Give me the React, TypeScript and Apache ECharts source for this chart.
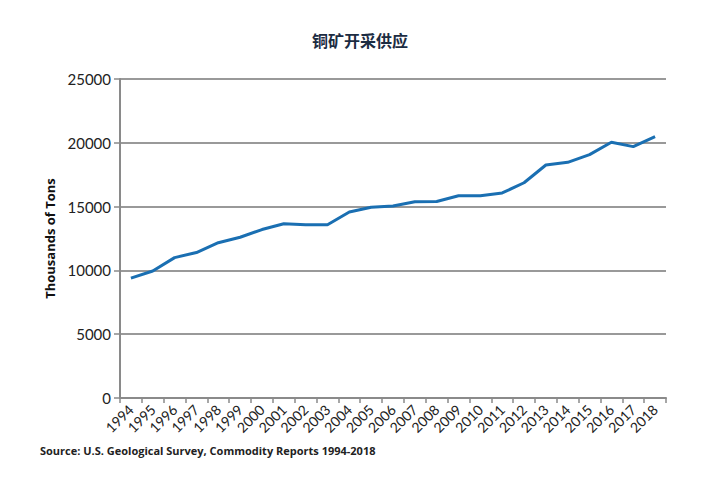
import React, { useEffect, useRef } from "react";
import * as echarts from "echarts";

const years = [
  "1994", "1995", "1996", "1997", "1998", "1999", "2000", "2001", "2002",
  "2003", "2004", "2005", "2006", "2007", "2008", "2009", "2010", "2011",
  "2012", "2013", "2014", "2015", "2016", "2017", "2018",
];
const supply = [
  9400, 9950, 11000, 11400, 12170, 12600, 13200, 13660, 13580,
  13580, 14580, 14950, 15050, 15380, 15400, 15850, 15850, 16070,
  16870, 18260, 18470, 19070, 20040, 19700, 20480,
];
const titleText = "铜矿开采供应";
const yAxisName = "Thousands of Tons";
const sourceText = "Source: U.S. Geological Survey, Commodity Reports 1994-2018";

export default function App() {
  const ref = useRef<HTMLDivElement>(null);
  useEffect(() => {
    if (!ref.current) return;
    const chart = echarts.init(ref.current, null, { renderer: "svg" });
    chart.setOption({
      animation: false,
      backgroundColor: "#ffffff",
      textStyle: { fontFamily: "Lato, Open Sans, sans-serif" },
      title: {
        text: titleText,
        left: "center",
        top: 27,
        textStyle: {
          fontFamily: "Noto Sans CJK SC",
          fontSize: 16,
          fontWeight: "bold",
          color: "#1c2c42",
        },
      },
      graphic: [
        {
          type: "text",
          left: 40,
          top: 445,
          style: {
            text: sourceText,
            fontFamily: "Open Sans, sans-serif",
            fontSize: 11,
            fontWeight: "bold",
            fill: "#222222",
          },
        },
      ],
      grid: { left: 120, right: 54, top: 79, bottom: 102, containLabel: false },
      xAxis: {
        type: "category",
        data: years,
        boundaryGap: true,
        axisLine: { lineStyle: { color: "#8a8a8a", width: 2 } },
        axisTick: { show: true, length: 5, lineStyle: { color: "#8a8a8a", width: 1.5 } },
        axisLabel: {
          rotate: 45,
          interval: 0,
          fontSize: 14,
          color: "#222222",
          margin: 9,
        },
        splitLine: { show: false },
      },
      yAxis: {
        type: "value",
        min: 0,
        max: 25000,
        interval: 5000,
        name: yAxisName,
        nameLocation: "middle",
        nameGap: 60,
        nameRotate: 90,
        nameTextStyle: {
          fontFamily: "Open Sans, sans-serif",
          fontSize: 13,
          fontWeight: "bold",
          color: "#111111",
        },
        axisLine: { show: true, lineStyle: { color: "#8a8a8a", width: 2 } },
        axisTick: { show: true, length: 6, lineStyle: { color: "#8a8a8a", width: 1.5 } },
        axisLabel: {
          fontSize: 15,
          color: "#222222",
          margin: 9,
          formatter: (v: number) => String(v),
        },
        splitLine: { lineStyle: { color: "#999999", width: 2 } },
      },
      series: [
        {
          type: "line",
          data: supply,
          symbol: "none",
          lineStyle: { color: "#1a6fb2", width: 3 },
          itemStyle: { color: "#1a6fb2" },
        },
      ],
    });
    return () => chart.dispose();
  }, []);
  return <div ref={ref} style={{ width: 720, height: 500, margin: -8 }} />;
}
